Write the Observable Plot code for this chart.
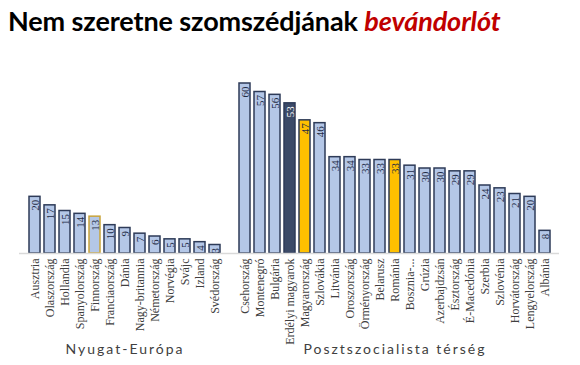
<!DOCTYPE html>
<html>
<head>
<meta charset="utf-8">
<script src="https://cdn.jsdelivr.net/npm/d3@7"></script>
<script src="https://cdn.jsdelivr.net/npm/@observablehq/plot@0.6"></script>
<style>
  html, body { margin: 0; padding: 0; background: #fff; width: 580px; height: 365px; overflow: hidden; }
  #title { height: 48px; box-sizing: border-box; padding: 6px 0 0 8px; font-family: Lato, "Open Sans", sans-serif; font-weight: 700; font-size: 27px; letter-spacing: -0.1px; line-height: 30px; color: #000; white-space: nowrap; }
  #title em { color: #C00000; font-style: italic; }
</style>
</head>
<body>
<div id="title">Nem szeretne szomszédjának <em>bevándorlót</em></div>
<div id="chart"></div>
<script>
const westCountries = ["Ausztria","Olaszország","Hollandia","Spanyolország","Finnország","Franciaország","Dánia","Nagy-britannia","Németország","Norvégia","Svájc","Izland","Svédország"];
const westValues = [20,17,15,14,13,10,9,7,6,5,5,4,3];
const eastCountries = ["Csehország","Montenegró","Bulgária","Erdélyi magyarok","Magyarország","Szlovákia","Litvánia","Oroszország","Örményország","Belarusz","Románia","Bosznia-...","Grúzia","Azerbajdzsán","Észtország","É-Macedónia","Szerbia","Szlovénia","Horvátország","Lengyelország","Albánia"];
const eastValues = [60,57,56,53,47,46,34,34,33,33,33,31,30,30,29,29,24,23,21,20,8];
const darkCategories = ["Erdélyi magyarok"];
const goldCategories = ["Magyarország","Románia"];
const goldOutlineCategories = ["Finnország"];
const groupLabels = ["Nyugat-Európa","Posztszocialista térség"];
const groupAnchors = ["Dánia","Románia"];

const spacer = " ";
const rows = [
  ...westCountries.map((c, i) => ({cat: c, value: westValues[i]})),
  ...eastCountries.map((c, i) => ({cat: c, value: eastValues[i]}))
];
const domain = [...westCountries, spacer, ...eastCountries];

const fillOf = d => darkCategories.includes(d.cat) ? "#3B4A68" : goldCategories.includes(d.cat) ? "#FFC000" : "#B4C7E7";
const strokeOf = d => goldOutlineCategories.includes(d.cat) ? "#C9A43A" : "#2E3B58";
const labelColor = d => darkCategories.includes(d.cat) ? "#ffffff" : "#1F2B45";

const groups = groupLabels.map((g, i) => ({label: g, cat: groupAnchors[i]}));

const chart = Plot.plot({
  width: 580,
  height: 317,
  marginTop: 35,
  marginBottom: 112,
  marginLeft: 19,
  marginRight: 21,
  style: {background: "white", fontFamily: "Liberation Serif", overflow: "visible"},
  x: {domain, padding: 0.3, label: null},
  y: {domain: [0, 60], axis: null},
  marks: [
    Plot.barY(rows, {x: "cat", y: "value", fill: fillOf, stroke: strokeOf, strokeWidth: 1.5}),
    Plot.ruleY([0], {stroke: "#D9D9D9", strokeWidth: 1.5}),
    Plot.text(rows, {x: "cat", y: "value", text: d => String(d.value), rotate: -90, textAnchor: "end", dy: 3, fill: labelColor, fontSize: 11, fontFamily: "Liberation Serif"}),
    Plot.axisX({tickRotate: -90, tickSize: 0, tickPadding: 5, fontSize: 12, fontFamily: "Liberation Serif", fill: "#404040", label: null, tickFormat: d => d === spacer ? "" : d}),
    Plot.text(groups, {x: "cat", frameAnchor: "bottom", dy: 100, text: "label", fontSize: 14, fontFamily: "Lato", fill: "#404040"})
  ]
});
d3.select(chart).selectAll("text").filter(function() { return groupLabels.includes(this.textContent); }).style("letter-spacing", "2px");
document.getElementById("chart").appendChild(chart);
</script>
</body>
</html>
